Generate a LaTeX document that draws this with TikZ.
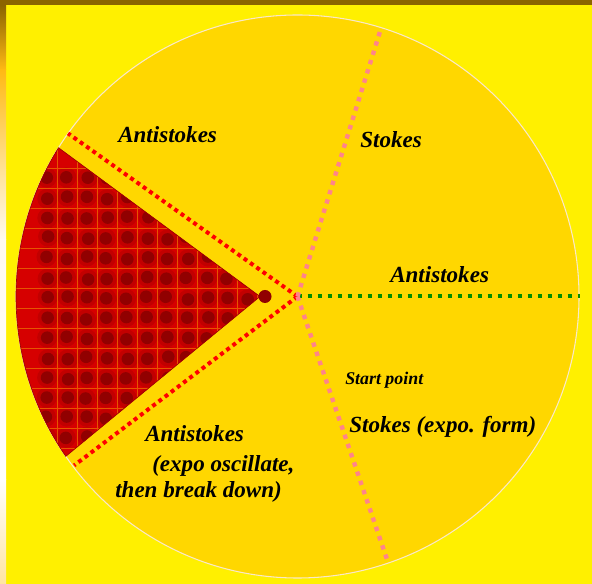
\documentclass[tikz,border=0pt]{standalone}
\usepackage{fontspec}
\setmainfont{Liberation Serif}
\usetikzlibrary{calc}
\definecolor{stokesyellow}{RGB}{255,240,0}
\definecolor{stokesgold}{RGB}{255,215,0}
\definecolor{stokesrim}{RGB}{250,232,200}
\definecolor{stokesbrown}{RGB}{139,100,0}
\definecolor{stokesorange}{RGB}{255,185,20}
\definecolor{stokescream}{RGB}{255,225,150}
\definecolor{stokeswhite}{RGB}{255,250,240}
\definecolor{stokespeach}{RGB}{255,228,160}
\definecolor{stokesred}{RGB}{214,0,0}
\definecolor{stokesring}{RGB}{194,0,0}
\definecolor{stokesdot}{RGB}{145,0,0}
\definecolor{stokesgrid}{RGB}{230,85,0}
\definecolor{stokespink}{RGB}{255,132,138}
\definecolor{stokesline}{RGB}{255,0,0}
\definecolor{stokesgreen}{RGB}{0,140,0}

\begin{document}
\begin{tikzpicture}[x=.75pt,y=.75pt,
    font=\fontsize{17.3}{20}\selectfont\bfseries\itshape,
    region/.style={anchor=base west,inner sep=0pt}]
    \useasboundingbox (0,0) rectangle (592,584);
    \fill[stokesyellow] (0,0) rectangle (592,584);
    \shade[top color=stokesbrown,bottom color=stokesorange] (0,514) rectangle (6,579);
    \shade[top color=stokesorange,bottom color=stokescream] (0,414) rectangle (6,514.2);
    \shade[top color=stokescream,bottom color=stokeswhite] (0,344) rectangle (6,414.2);
    \shade[top color=stokeswhite,bottom color=white] (0,104) rectangle (6,344.2);
    \shade[top color=white,bottom color=stokespeach] (0,0) rectangle (6,104.2);
    \fill[stokesbrown] (0,579) rectangle (592,584);
    \coordinate (C) at (297.5,287.5);
    \fill[stokesgold] (C) circle (281.5);
    \draw[stokesrim,line width=.8pt] (C) circle (281.5);
    \coordinate (apex) at (260,287.5);
    \coordinate (tipdot) at (265,287.5);
    \fill[stokesred] (apex) -- ([shift={(C)}]148.1:281.5)
      arc[start angle=148.1,end angle=214.6,radius=281.5] -- cycle;
    \begin{scope}
      \clip (apex) -- ([shift={(C)}]148.1:281.5)
        arc[start angle=148.1,end angle=214.6,radius=281.5] -- cycle;
      \pgfmathsetseed{7}
      \foreach \i in {0,...,10} {
        \foreach \j in {0,...,13} {
          \pgfmathsetmacro\dx{47+20*\i+1.5*rand}
          \pgfmathsetmacro\dy{406-20*\j+1.5*rand}
          \fill[stokesring] (\dx,\dy) circle (10);
        }
      }
      \foreach \k in {0,...,10} {
        \draw[stokesgrid,line width=.5pt] (57+20*\k,120) -- (57+20*\k,460);
      }
      \foreach \k in {0,...,16} {
        \draw[stokesgrid,line width=.5pt] (0,436-20*\k) -- (270,436-20*\k);
      }
      \pgfmathsetseed{7}
      \foreach \i in {0,...,10} {
        \foreach \j in {0,...,13} {
          \pgfmathsetmacro\dx{47+20*\i+1.5*rand}
          \pgfmathsetmacro\dy{406-20*\j+1.5*rand}
          \fill[stokesdot] (\dx,\dy) circle (6.3);
        }
      }
    \end{scope}
    \draw[stokesdot!80!stokesred,line width=.5pt] (apex) -- ([shift={(C)}]148.1:281.5)
      arc[start angle=148.1,end angle=214.6,radius=281.5] -- cycle;
    \fill[stokesdot] (tipdot) circle (6.5);
    \coordinate (redT) at ($(C)+(144.6:281.5)$);
    \coordinate (redB) at ($(C)+(217.1:280)$);
    \coordinate (pinkT) at ($(C)+(72.7:280.5)$);
    \coordinate (pinkB) at ($(C)+(-71.2:280.5)$);
    \coordinate (greenR) at ($(C)+(0:282.5)$);
    \draw[stokesgreen,line width=3pt,dash pattern=on 3.6pt off 3.9pt] (C) -- (greenR);
    \draw[stokesline,line width=3pt,dash pattern=on 3pt off 2.8pt] (C) -- (redT);
    \draw[stokesline,line width=3pt,dash pattern=on 3pt off 2.8pt] (C) -- (redB);
    \draw[stokespink,line width=3.3pt,dash pattern=on 3.3pt off 4pt] (C) -- (pinkT);
    \draw[stokespink,line width=3.3pt,dash pattern=on 3.3pt off 4pt] (C) -- (pinkB);
    \node[region] (antiTL) at (118,441) {Antistokes};
    \node[region] (stokesT) at (360,436) {Stokes};
    \node[region] (antiR) at (390,301) {Antistokes};
    \node[region,font=\fontsize{13.4}{15}\selectfont\bfseries\itshape] (start)
      at (345,199) {Start point};
    \node[region] (stokesB) at (349,151) {Stokes (expo. form)};
    \node[region] (antiB) at (145,142) {Antistokes};
    \node[region] (expoB) at (152,112) {(expo oscillate,};
    \node[region] (breakB) at (115,86) {then break down)};
  \end{tikzpicture}
\end{document}
